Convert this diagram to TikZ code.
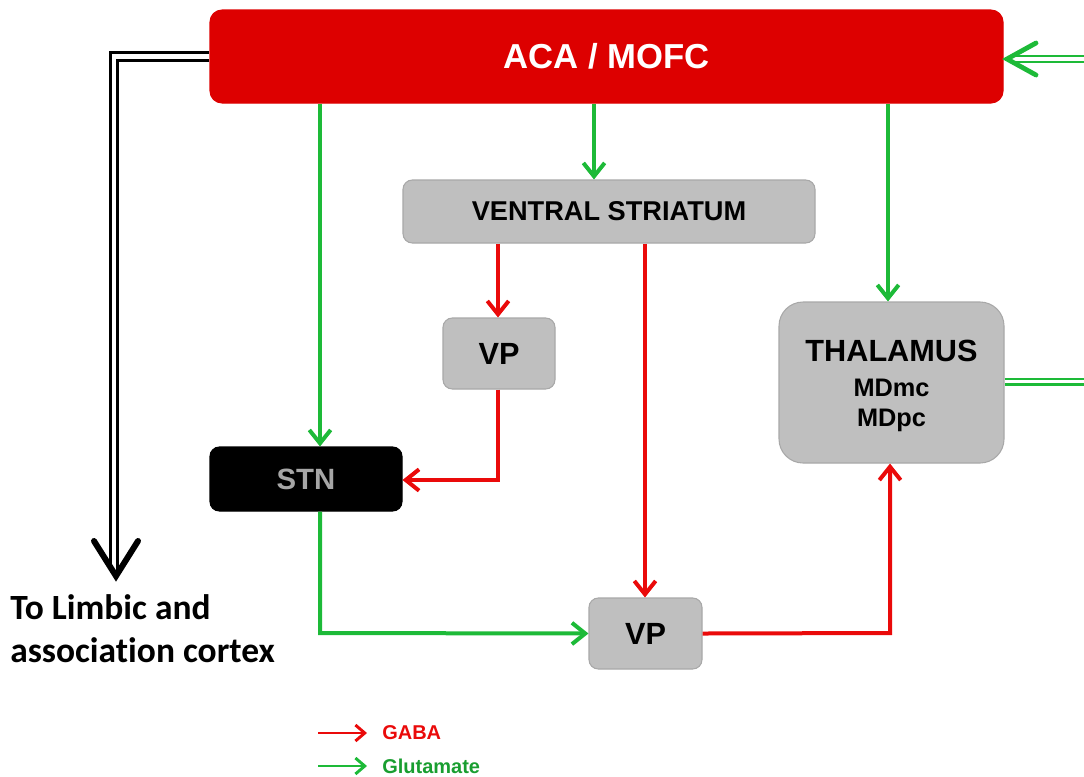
\documentclass[tikz,border=0pt]{standalone}
\usepackage{fontspec}
\setmainfont{Liberation Sans}
\newfontfamily\carlitofont[Ligatures={NoCommon,NoContextual}]{Carlito}
\usetikzlibrary{arrows.meta}
\definecolor{acared}{HTML}{DD0000}
\definecolor{gabared}{HTML}{EA0A0A}
\definecolor{glugreen}{HTML}{1DBA38}
\definecolor{boxgray}{HTML}{BFBFBF}
\definecolor{boxedge}{HTML}{A8A8A8}
\definecolor{stntext}{HTML}{A6A6A6}
\tikzset{
  region/.style={rounded corners=9pt, draw=boxedge, line width=0.8pt, fill=boxgray,
    font=\bfseries, text=black, align=center, inner sep=0pt},
  tipbarb/.style={-{Straight Barb[length=10pt,width=16pt,line width=3pt]}},
  gaba/.style={draw=gabared, line width=3pt, tipbarb},
  glu/.style={draw=glugreen, line width=3pt, tipbarb},
  gludouble/.style={draw=glugreen, line width=1.7pt, double=white, double distance=2.6pt},
  outdouble/.style={draw=black, line width=2.2pt, double=white, double distance=3.4pt},
}
\begin{document}
\begin{tikzpicture}[x=0.75pt,y=-0.75pt]
\useasboundingbox (0,0) rectangle (1084,776);
\clip (0,0) rectangle (1084,776);

% regions
\node[region, fill=acared, draw=acared, text=white, minimum width=594.75pt, minimum height=69.75pt,
  font=\fontsize{26}{30}\selectfont\bfseries] (aca) at (606.5,56.5) {ACA / MOFC};
\node[region, rounded corners=7pt, minimum width=309pt, minimum height=47.25pt,
  font=\fontsize{20.4}{24}\selectfont\bfseries] (vs) at (609,211.5) {VENTRAL STRIATUM};
\node[region, rounded corners=7pt, minimum width=84pt, minimum height=53.25pt,
  font=\fontsize{23}{27}\selectfont\bfseries] (vpa) at (499,353.5) {VP};
\node[region, rounded corners=18pt, minimum width=168.75pt, minimum height=120.75pt] (thal) at (891.5,382.5) {};
\node[align=center, inner sep=0pt, font=\fontsize{19}{22.5}\selectfont\bfseries] (thaltext)
  at (891.5,386) {{\fontsize{23}{26}\selectfont THALAMUS}\\[4pt]MDmc\\MDpc};
\node[region, rounded corners=7pt, fill=black, draw=black, text=stntext, minimum width=144pt,
  minimum height=48pt, font=\fontsize{22}{26}\selectfont\bfseries] (stn) at (306,479) {STN};
\node[region, rounded corners=7pt, minimum width=84.75pt, minimum height=53.25pt,
  font=\fontsize{23}{27}\selectfont\bfseries] (vpb) at (645.5,633.5) {VP};

% outgoing cortical projection
\node[anchor=north west, align=left, inner sep=0pt,
  font=\carlitofont\bfseries\fontsize{26.6}{32.5}\selectfont] (limbic) at (10,594)
  {To Limbic and\\association cortex};
\coordinate (outtip) at (116,576);
\draw[outdouble] (aca.west) -- (114,56.5) -- (114,570);
\draw[black, line width=4.5pt, line cap=round, line join=miter] (94,541) -- (outtip) -- (138,541);

% glutamatergic cortical outputs
\draw[glu] (aca.south -| 320,0) -- (stn.north -| 320,0);
\draw[glu] (aca.south -| 594,0) -- (vs.north -| 594,0);
\draw[glu] (aca.south -| 888,0) -- (thal.north -| 888,0);

% striatal outputs
\draw[gaba] (vs.south -| 498,0) -- (vpa.north -| 498,0);
\draw[gaba] (vs.south -| 645,0) -- (vpb.north -| 645,0);
\draw[gaba] (vpa.south -| 498,0) -- (498,480) -- (stn.east |- 0,480);

% indirect loop
\draw[glu] (stn.south -| 320,0) -- (320,633) -- (vpb.west);
\draw[gaba] (vpb.east) -- (890,633) -- (thal.south -| 890,0);

% thalamo-cortical return
\coordinate (thalout) at (1090,381.5);
\coordinate (acain) at (1090,59);
\coordinate (acatip) at (1007,59);
\draw[gludouble] (thal.east |- 0,381.5) -- (thalout);
\draw[gludouble] (acain) -- (1011,59);
\draw[glugreen, line width=3.6pt, line cap=round] (1036,43) -- (acatip) -- (1036,75);

% legend
\coordinate (lga) at (318,733);
\coordinate (lgb) at (367,733);
\coordinate (lgc) at (318,766);
\coordinate (lgd) at (367,766);
\draw[gaba, line width=2.2pt, -{Straight Barb[length=7pt,width=12pt,line width=2.2pt]}] (lga) -- (lgb);
\draw[glu, line width=2.2pt, -{Straight Barb[length=7pt,width=12pt,line width=2.2pt]}] (lgc) -- (lgd);
\node[anchor=west, inner sep=0pt, text=gabared, font=\fontsize{15}{18}\selectfont\bfseries] (lgaba) at (382,733) {GABA};
\node[anchor=west, inner sep=0pt, text=glugreen!85!black, font=\fontsize{15}{18}\selectfont\bfseries] (lglu) at (382,766) {Glutamate};
\end{tikzpicture}
\end{document}
